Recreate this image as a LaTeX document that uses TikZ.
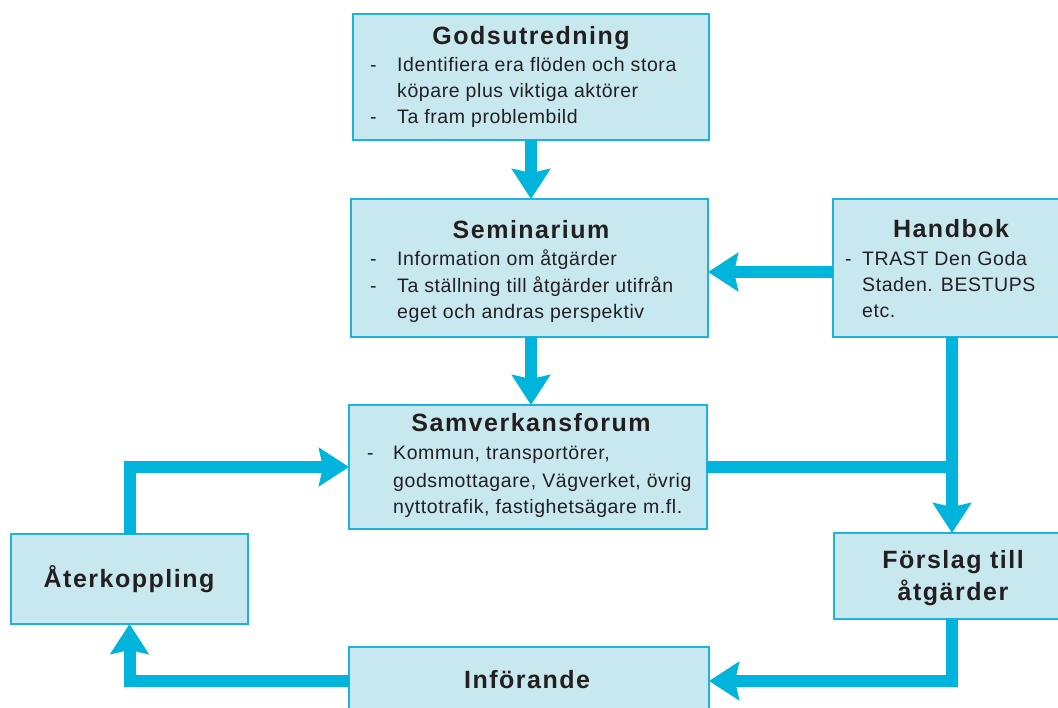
\documentclass[tikz,border=0pt]{standalone}
\usepackage{fontspec}
\setmainfont{Liberation Sans}
\newfontfamily\titlefont[LetterSpace=6]{Liberation Sans}
\newfontfamily\bodyfont[LetterSpace=3]{Liberation Sans}
\usetikzlibrary{arrows.meta}
\definecolor{arrowc}{HTML}{00B4DC}
\definecolor{boxfill}{HTML}{C8E8F0}
\definecolor{boxline}{HTML}{1DB3DB}
\definecolor{txt}{HTML}{231F20}
\begin{document}
\begin{tikzpicture}[x=1pt,y=-1pt,
  box/.style={draw=boxline,fill=boxfill,line width=2pt,rectangle,anchor=north west,inner sep=0pt,outer sep=0pt},
  title/.style={font=\titlefont\bfseries\fontsize{25}{30}\selectfont,text=txt,anchor=base,inner sep=0pt},
  body/.style={font=\bodyfont\fontsize{19.5}{26}\selectfont,text=txt,anchor=base west,inner sep=0pt},
  flow/.style={draw=arrowc,line width=12pt,line join=miter,-{Stealth[length=30pt,width=38pt,inset=4pt]}},
  link/.style={draw=arrowc,line width=12pt,line join=miter}]
\useasboundingbox (0,0) rectangle (1058,708);
% boxes
\node[box,minimum width=356pt,minimum height=126pt] (god) at (353,14) {};
\node[box,minimum width=357pt,minimum height=138pt] (sem) at (351,199) {};
\node[box,minimum width=238pt,minimum height=138pt] (hand) at (833,199) {};
\node[box,minimum width=358pt,minimum height=124pt] (sam) at (349,405) {};
\node[box,minimum width=237pt,minimum height=90pt] (ater) at (11,534) {};
\node[box,minimum width=236pt,minimum height=86pt] (fors) at (834,533) {};
\node[box,minimum width=360pt,minimum height=68pt] (inf) at (349,647) {};
% texts
\node[title] (godT) at (531,45) {Godsutredning};
\node[body] (godD1) at (370,72) {-};
\node[body] (god1) at (397,72) {Identifiera era flöden och stora};
\node[body] (god2) at (397,98) {köpare plus viktiga aktörer};
\node[body] (godD2) at (370,124) {-};
\node[body] (god3) at (397,124) {Ta fram problembild};

\node[title] (semT) at (531,239) {Seminarium};
\node[body] (semD1) at (370,266) {-};
\node[body] (sem1) at (397,266) {Information om åtgärder};
\node[body] (semD2) at (370,293) {-};
\node[body] (sem2) at (397,293) {Ta ställning till åtgärder utifrån};
\node[body] (sem3) at (397,319) {eget och andras perspektiv};

\node[title] (handT) at (951,238) {Handbok};
\node[body] (handD) at (845,266) {-};
\node[body] (hand1) at (862,266) {TRAST Den Goda};
\node[body] (hand2) at (862,292) {Staden. BESTUPS};
\node[body] (hand3) at (862,318) {etc.};

\node[title] (samT) at (531,432) {Samverkansforum};
\node[body] (samD) at (367,460) {-};
\node[body] (sam1) at (393,460) {Kommun, transportörer,};
\node[body] (sam2) at (393,487) {godsmottagare, Vägverket, övrig};
\node[body] (sam3) at (393,513) {nyttotrafik, fastighetsägare m.fl.};

\node[title] (aterT) at (129,587) {Återkoppling};
\node[title] (fors1) at (953,568) {Förslag till};
\node[title] (fors2) at (953,600) {åtgärder};
\node[title] (infT) at (527,688) {Införande};
% connectors
\draw[flow] (god.south) -- (god.south |- sem.north);
\draw[flow] (god.south |- sem.south) -- (god.south |- sam.north);
\draw[flow] ([yshift=-4pt]hand.west) -- ([yshift=-4pt]sem.east);
\draw[link] (sam.east) -- (sam.east -| hand.south);
\draw[flow] (hand.south) -- (fors.north);
\draw[flow] (fors.south) |- (inf.east);
\draw[flow] (inf.west) -| (ater.south);
\draw[flow] (ater.north) |- (sam.west);
\end{tikzpicture}
\end{document}
